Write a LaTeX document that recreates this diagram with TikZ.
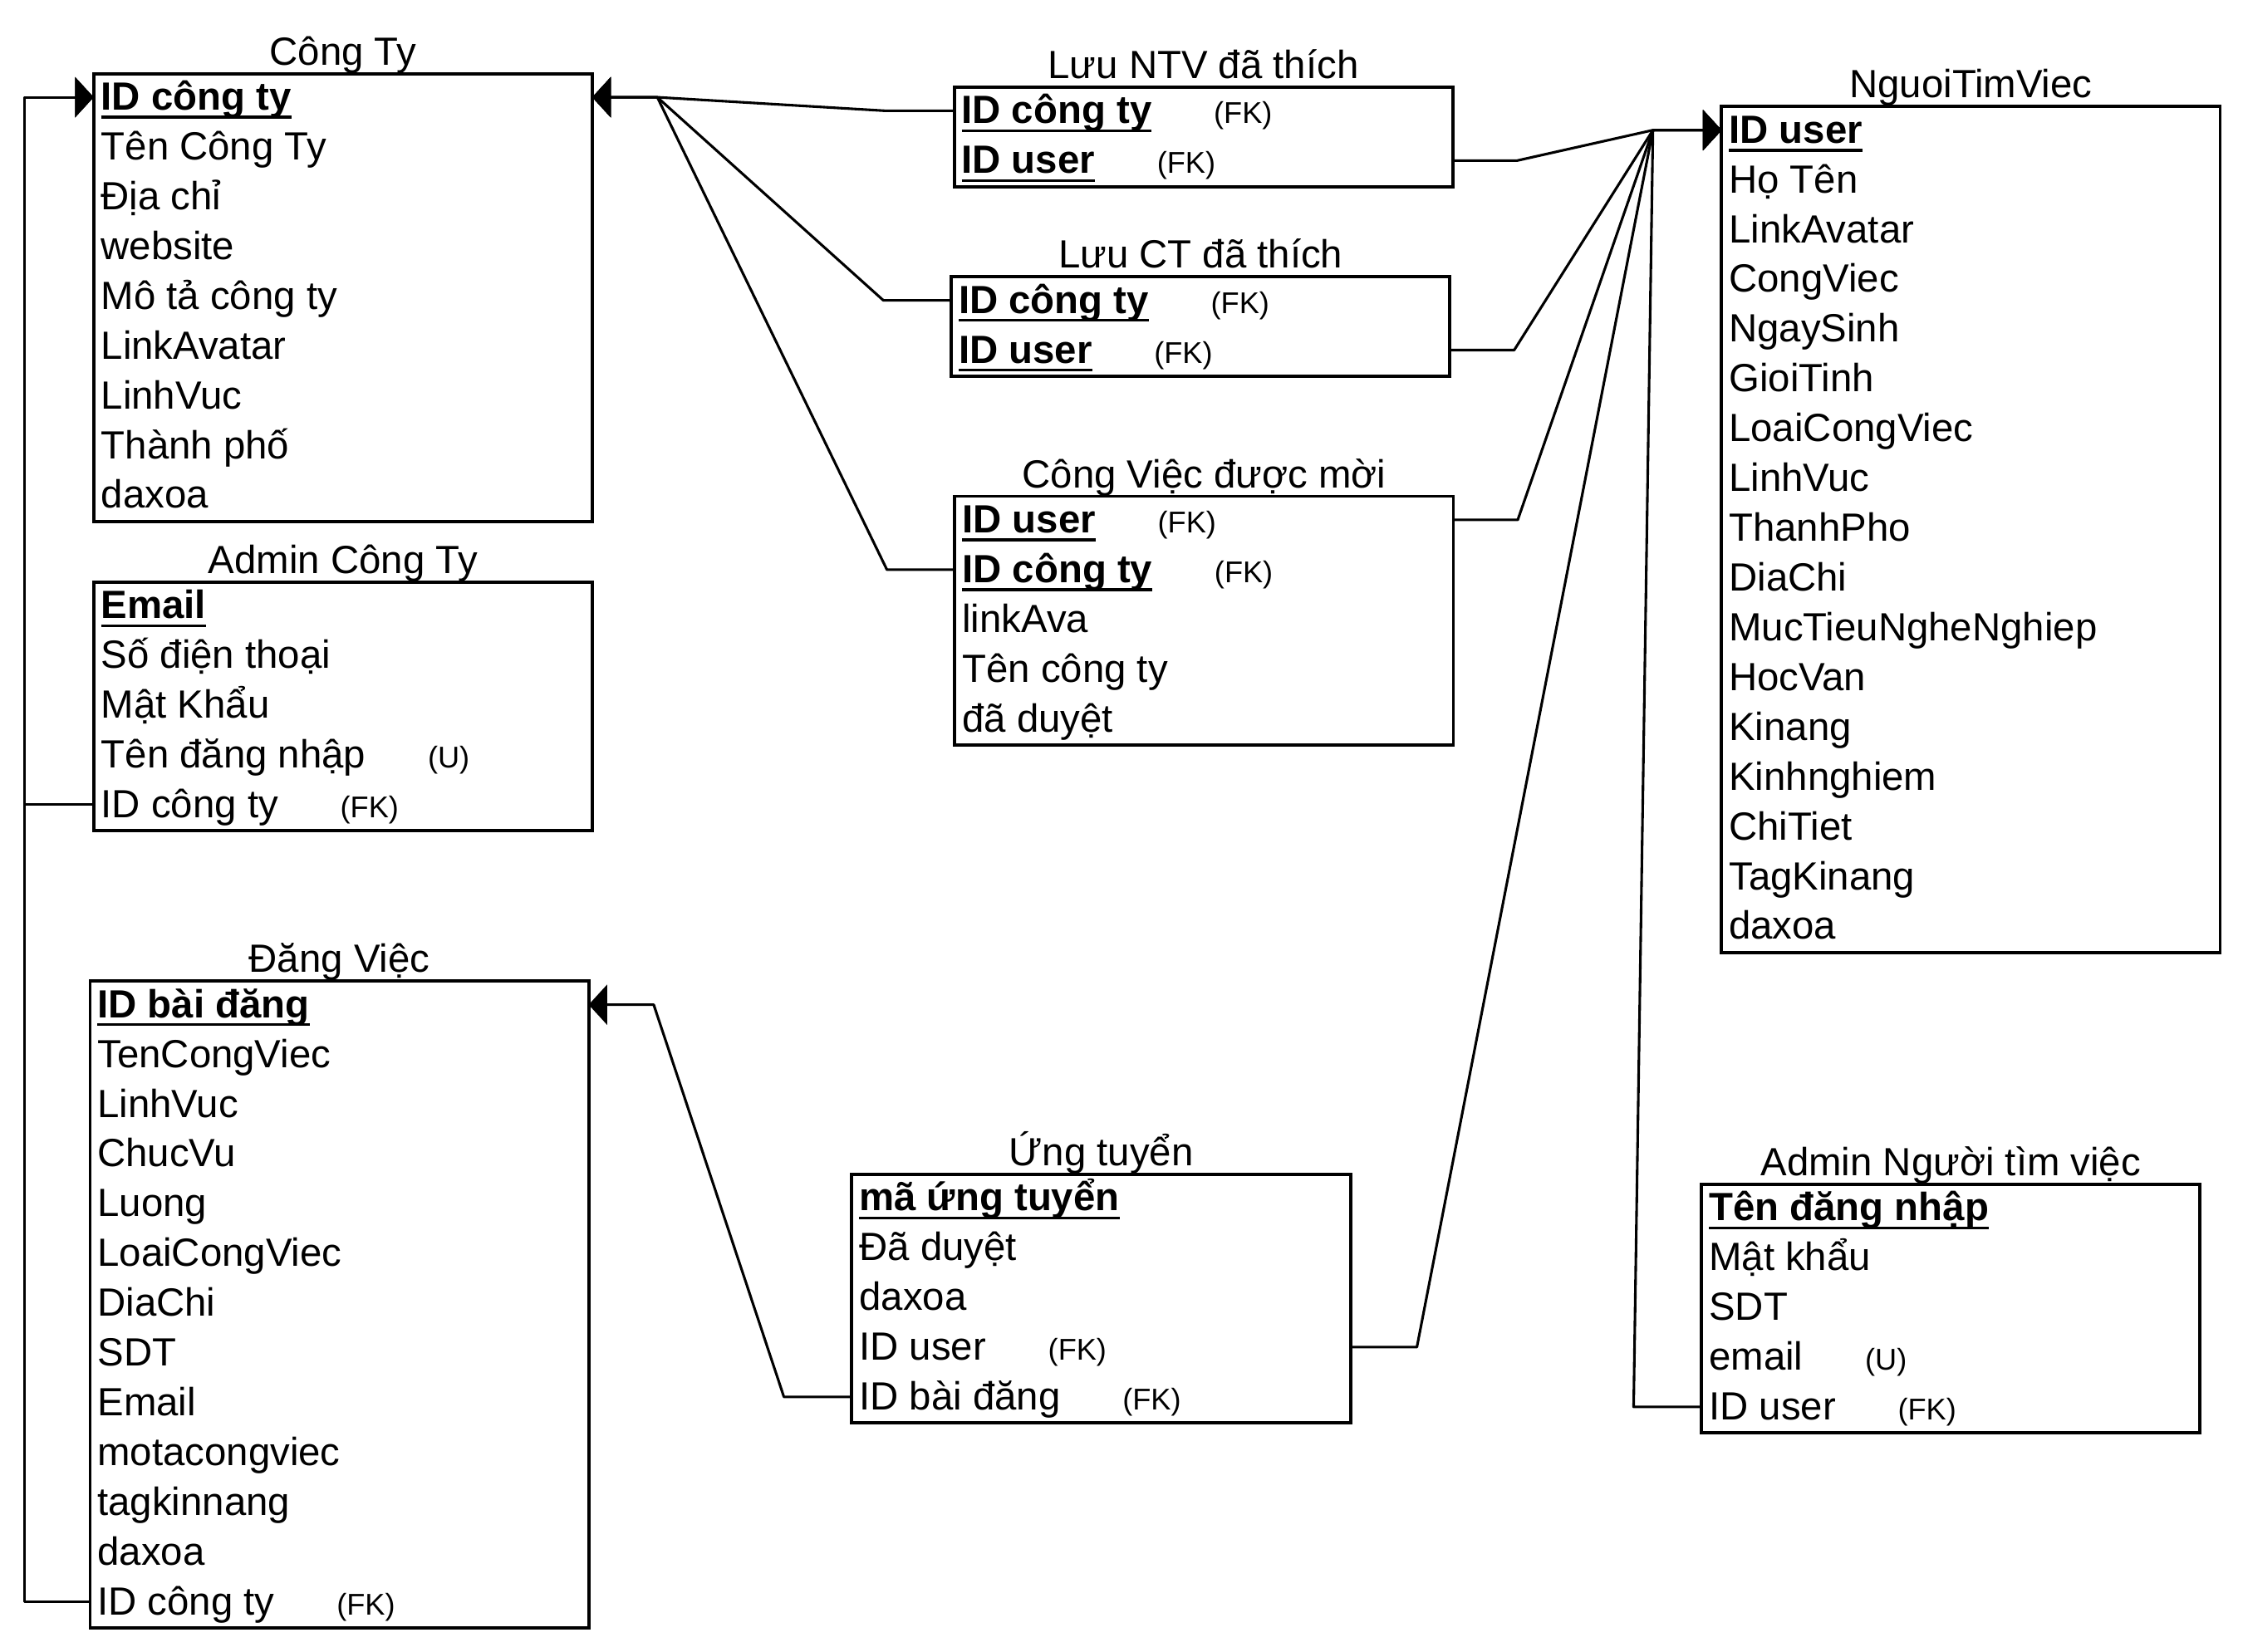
\documentclass[tikz,border=0pt]{standalone}
\usepackage{fontspec}
\setmainfont{Liberation Sans}
\usetikzlibrary{arrows.meta,calc}

% underlined bold key field
\newsavebox\keybox
\newcommand\keyf[1]{\sbox\keybox{\bfseries #1}\rlap{\rule[-6pt]{\wd\keybox}{2pt}}\usebox\keybox}
\newcommand\bodyfont{\fontsize{27.5pt}{33pt}\selectfont}
\newcommand\tagfont{\fontsize{21pt}{25pt}\selectfont}

% plain rows of an entity, numbered from #2
\newcommand\fieldrows[3]{%
  \foreach \t [count=\i from #2] in {#3}
    {\node[efld] (#1-r\i) at ($(#1.north west)+(5,25.5+34.8*\i)$) {\t};}}

\tikzset{
  ebox/.style={draw, line width=2.3pt, inner sep=0pt, outer sep=0pt, minimum width=348.5pt, anchor=north west},
  efld/.style={anchor=base west, inner sep=0pt, text height=23pt, text depth=5pt, font=\bodyfont},
  etitle/.style={anchor=base, inner sep=0pt, font=\bodyfont},
  etag/.style={anchor=base west, inner sep=0pt, font=\tagfont},
  conn/.style={line width=1.8pt, line join=round},
  fkarrow/.style={conn, -{Triangle[length=13pt, width=28pt]}},
}

\begin{document}
\begin{tikzpicture}[x=1pt, y=-1pt]
\useasboundingbox (0,0) rectangle (1568,1155);

% ---------- Công Ty ----------
\node[ebox, minimum height=313.2pt] (ct) at (65.5,51.5) {};
\node[etitle] (ct-title) at ([yshift=6pt]ct.north) {Công Ty};
\node[efld] (ct-r0) at ($(ct.north west)+(5,25.5)$) {\keyf{ID công ty}};
\fieldrows{ct}{1}{Tên Công Ty, Địa chỉ, website, Mô tả công ty, LinkAvatar, LinhVuc, Thành phố, daxoa}

% ---------- Admin Công Ty ----------
\node[ebox, minimum height=174pt] (act) at (65.5,407) {};
\node[etitle] (act-title) at ([yshift=6pt]act.north) {Admin Công Ty};
\node[efld] (act-r0) at ($(act.north west)+(5,25.5)$) {\keyf{Email}};
\fieldrows{act}{1}{Số điện thoại, Mật Khẩu, Tên đăng nhập, ID công ty}
\node[etag] (act-u) at ([xshift=43pt]act-r3.base east) {(U)};
\node[etag] (act-fk) at ([xshift=43pt]act-r4.base east) {(FK)};

% ---------- Đăng Việc ----------
\node[ebox, minimum height=452.4pt] (dv) at (63,686) {};
\node[etitle] (dv-title) at ([yshift=6pt]dv.north) {Đăng Việc};
\node[efld] (dv-r0) at ($(dv.north west)+(5,25.5)$) {\keyf{ID bài đăng}};
\fieldrows{dv}{1}{TenCongViec, LinhVuc, ChucVu, Luong, LoaiCongViec, DiaChi, SDT, Email, motacongviec, tagkinnang, daxoa, ID công ty}
\node[etag] (dv-fk) at ([xshift=43pt]dv-r12.base east) {(FK)};

% ---------- Lưu NTV đã thích ----------
\node[ebox, minimum height=69.6pt] (lntv) at (667,61) {};
\node[etitle] (lntv-title) at ([yshift=6pt]lntv.north) {Lưu NTV đã thích};
\node[efld] (lntv-r0) at ($(lntv.north west)+(5,25.5)$) {\keyf{ID công ty}};
\node[efld] (lntv-r1) at ($(lntv.north west)+(5,60.3)$) {\keyf{ID user}};
\node[etag] (lntv-fk0) at ([xshift=43pt]lntv-r0.base east) {(FK)};
\node[etag] (lntv-fk1) at ([xshift=43pt]lntv-r1.base east) {(FK)};

% ---------- Lưu CT đã thích ----------
\node[ebox, minimum height=69.6pt] (lct) at (665,193.5) {};
\node[etitle] (lct-title) at ([yshift=6pt]lct.north) {Lưu CT đã thích};
\node[efld] (lct-r0) at ($(lct.north west)+(5,25.5)$) {\keyf{ID công ty}};
\node[efld] (lct-r1) at ($(lct.north west)+(5,60.3)$) {\keyf{ID user}};
\node[etag] (lct-fk0) at ([xshift=43pt]lct-r0.base east) {(FK)};
\node[etag] (lct-fk1) at ([xshift=43pt]lct-r1.base east) {(FK)};

% ---------- Công Việc được mời ----------
\node[ebox, minimum height=174pt] (cvm) at (667.5,347) {};
\node[etitle] (cvm-title) at ([yshift=6pt]cvm.north) {Công Việc được mời};
\node[efld] (cvm-r0) at ($(cvm.north west)+(5,25.5)$) {\keyf{ID user}};
\node[efld] (cvm-r1) at ($(cvm.north west)+(5,60.3)$) {\keyf{ID công ty}};
\fieldrows{cvm}{2}{linkAva, Tên công ty, đã duyệt}
\node[etag] (cvm-fk0) at ([xshift=43pt]cvm-r0.base east) {(FK)};
\node[etag] (cvm-fk1) at ([xshift=43pt]cvm-r1.base east) {(FK)};

% ---------- NguoiTimViec ----------
\node[ebox, minimum height=591.6pt] (ntv) at (1203.5,74.5) {};
\node[etitle] (ntv-title) at ([yshift=6pt]ntv.north) {NguoiTimViec};
\node[efld] (ntv-r0) at ($(ntv.north west)+(5,25.5)$) {\keyf{ID user}};
\fieldrows{ntv}{1}{Họ Tên, LinkAvatar, CongViec, NgaySinh, GioiTinh, LoaiCongViec, LinhVuc, ThanhPho, DiaChi, MucTieuNgheNghiep, HocVan, Kinang, Kinhnghiem, ChiTiet, TagKinang, daxoa}

% ---------- Ứng tuyển ----------
\node[ebox, minimum height=174pt] (ut) at (595.5,821) {};
\node[etitle] (ut-title) at ([yshift=6pt]ut.north) {Ứng tuyển};
\node[efld] (ut-r0) at ($(ut.north west)+(5,25.5)$) {\keyf{mã ứng tuyển}};
\fieldrows{ut}{1}{Đã duyệt, daxoa, ID user, ID bài đăng}
\node[etag] (ut-fk3) at ([xshift=43pt]ut-r3.base east) {(FK)};
\node[etag] (ut-fk4) at ([xshift=43pt]ut-r4.base east) {(FK)};

% ---------- Admin Người tìm việc ----------
\node[ebox, minimum height=174pt] (antv) at (1189.5,828) {};
\node[etitle] (antv-title) at ([yshift=6pt]antv.north) {Admin Người tìm việc};
\node[efld] (antv-r0) at ($(antv.north west)+(5,25.5)$) {\keyf{Tên đăng nhập}};
\fieldrows{antv}{1}{Mật khẩu, SDT, email, ID user}
\node[etag] (antv-u) at ([xshift=43pt]antv-r3.base east) {(U)};
\node[etag] (antv-fk) at ([xshift=43pt]antv-r4.base east) {(FK)};

% ---------- bend points ----------
\coordinate (ct-in) at ($(ct.west |- ct-r0)+(-48.5,0)$);
\coordinate (ct-jn) at ($(ct.east |- ct-r0)+(45.5,0)$);
\coordinate (dv-jn) at ($(dv.east |- dv-r0)+(45.5,0)$);
\coordinate (ntv-jn) at ($(ntv.west |- ntv-r0)+(-48,0)$);
\coordinate (lntv-bl) at ($(lntv.west |- lntv-r0)+(-47.5,0)$);
\coordinate (lct-bl) at ($(lct.west |- lct-r0)+(-47.5,0)$);
\coordinate (cvm-bl) at ($(cvm.west |- cvm-r1)+(-47.5,0)$);
\coordinate (ut-bl) at ($(ut.west |- ut-r4)+(-47.5,0)$);
\coordinate (lntv-br) at ($(lntv.east |- lntv-r1)+(45,0)$);
\coordinate (lct-br) at ($(lct.east |- lct-r1)+(45,0)$);
\coordinate (cvm-br) at ($(cvm.east |- cvm-r0)+(45,0)$);
\coordinate (ut-br) at ($(ut.east |- ut-r3)+(46.5,0)$);
\coordinate (antv-bl) at ($(antv.west |- antv-r4)+(-47.5,0)$);

% ---------- references to Công Ty ----------
\draw[fkarrow] (act.west |- act-r4) -| (ct-in) -- (ct.west |- ct-r0);
\draw[fkarrow] (dv.west |- dv-r12) -| (ct-in) -- (ct.west |- ct-r0);
\draw[fkarrow] (lntv.west |- lntv-r0) -- (lntv-bl) -- (ct-jn) -- (ct.east |- ct-r0);
\draw[fkarrow] (lct.west |- lct-r0) -- (lct-bl) -- (ct-jn) -- (ct.east |- ct-r0);
\draw[fkarrow] (cvm.west |- cvm-r1) -- (cvm-bl) -- (ct-jn) -- (ct.east |- ct-r0);

% ---------- reference to Đăng Việc ----------
\draw[fkarrow] (ut.west |- ut-r4) -- (ut-bl) -- (dv-jn) -- (dv.east |- dv-r0);

% ---------- references to NguoiTimViec ----------
\draw[fkarrow] (lntv.east |- lntv-r1) -- (lntv-br) -- (ntv-jn) -- (ntv.west |- ntv-r0);
\draw[fkarrow] (lct.east |- lct-r1) -- (lct-br) -- (ntv-jn) -- (ntv.west |- ntv-r0);
\draw[fkarrow] (cvm.east |- cvm-r0) -- (cvm-br) -- (ntv-jn) -- (ntv.west |- ntv-r0);
\draw[fkarrow] (ut.east |- ut-r3) -- (ut-br) -- (ntv-jn) -- (ntv.west |- ntv-r0);
\draw[fkarrow] (antv.west |- antv-r4) -- (antv-bl) -- (ntv-jn) -- (ntv.west |- ntv-r0);
\end{tikzpicture}
\end{document}
